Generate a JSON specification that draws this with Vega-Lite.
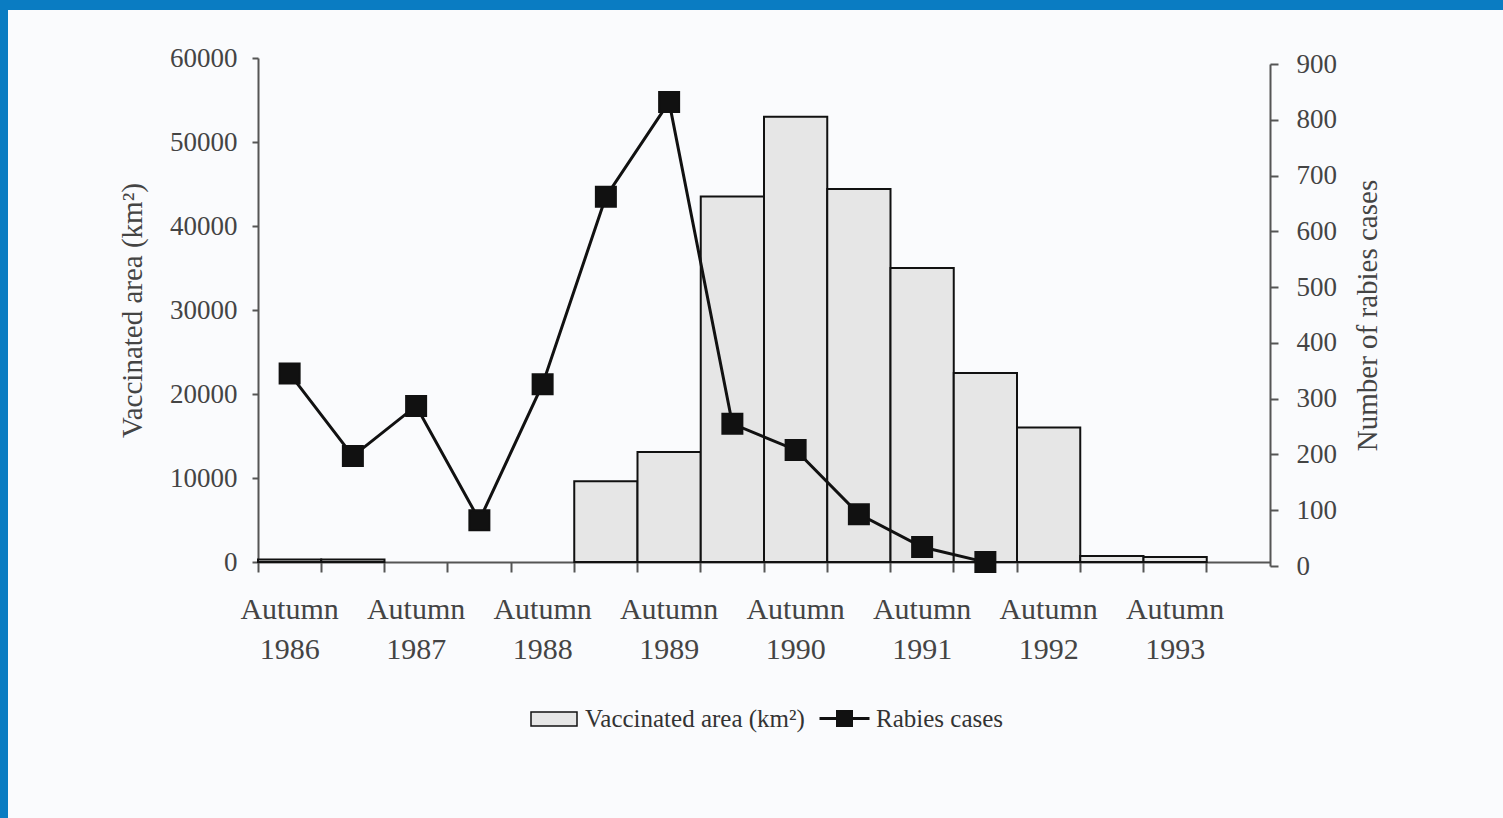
{
  "$schema": "https://vega.github.io/schema/vega-lite/v6.json",
  "width": 1495,
  "height": 808,
  "autosize": {"type": "none"},
  "padding": {"left": 8, "top": 10, "right": 0, "bottom": 0},
  "background": "#0a7cc2",
  "config": {
    "view": {"fill": "#fafbfd", "stroke": null},
    "axis": {
      "labelFont": "Liberation Serif",
      "titleFont": "Liberation Serif",
      "labelColor": "#444",
      "titleColor": "#444",
      "domainColor": "#555",
      "tickColor": "#555",
      "domainWidth": 2,
      "tickWidth": 2,
      "grid": false,
      "titleFontWeight": "normal"
    }
  },
  "datasets": {
    "vaccination": [
      {"period": "Autumn 1986", "area": 300},
      {"period": "Spring 1987", "area": 300},
      {"period": "Spring 1989", "area": 9600},
      {"period": "Autumn 1989", "area": 13100},
      {"period": "Spring 1990", "area": 43500},
      {"period": "Autumn 1990", "area": 53000},
      {"period": "Spring 1991", "area": 44400},
      {"period": "Autumn 1991", "area": 35000},
      {"period": "Spring 1992", "area": 22500},
      {"period": "Autumn 1992", "area": 16000},
      {"period": "Spring 1993", "area": 700},
      {"period": "Autumn 1993", "area": 600}
    ],
    "rabies": [
      {"period": "Autumn 1986", "cases": 345},
      {"period": "Spring 1987", "cases": 197},
      {"period": "Autumn 1987", "cases": 287},
      {"period": "Spring 1988", "cases": 82},
      {"period": "Autumn 1988", "cases": 326},
      {"period": "Spring 1989", "cases": 662},
      {"period": "Autumn 1989", "cases": 832},
      {"period": "Spring 1990", "cases": 255},
      {"period": "Autumn 1990", "cases": 208},
      {"period": "Spring 1991", "cases": 93},
      {"period": "Autumn 1991", "cases": 34},
      {"period": "Spring 1992", "cases": 7}
    ]
  },
  "layer": [
    {
      "data": {"name": "vaccination"},
      "mark": {"type": "bar", "stroke": "#111", "strokeWidth": 2},
      "encoding": {
        "x": {
          "field": "period",
          "type": "ordinal",
          "sort": null,
          "scale": {
            "domain": ["Autumn 1986", "Spring 1987", "Autumn 1987", "Spring 1988", "Autumn 1988", "Spring 1989", "Autumn 1989", "Spring 1990", "Autumn 1990", "Spring 1991", "Autumn 1991", "Spring 1992", "Autumn 1992", "Spring 1993", "Autumn 1993", "Spring 1994"],
            "range": [250, 1262],
            "paddingInner": 0,
            "paddingOuter": 0
          },
          "axis": {
            "title": null,
            "orient": "bottom",
            "offset": -256,
            "bandPosition": 0,
            "labelAngle": 0,
            "labelAlign": "center",
            "labelBaseline": "top",
            "labelFontSize": 30,
            "labelLineHeight": 40,
            "labelPadding": 22,
            "tickSize": 10,
            "labelOverlap": false,
            "labelExpr": "slice(datum.label, 0, 6) === 'Autumn' ? [slice(datum.label, 0, 6), slice(datum.label, 7)] : ''"
          }
        },
        "y": {
          "field": "area",
          "type": "quantitative",
          "scale": {"domain": [0, 60000], "range": [552, 48], "nice": false},
          "axis": {
            "title": "Vaccinated area (km²)",
            "orient": "left",
            "offset": -250,
            "values": [0, 10000, 20000, 30000, 40000, 50000, 60000],
            "format": "d",
            "labelFontSize": 27,
            "labelPadding": 15,
            "tickSize": 6,
            "titleFontSize": 29,
            "titlePadding": 22
          }
        },
        "fill": {
          "datum": "Vaccinated area (km²)",
          "type": "nominal",
          "scale": {"range": ["#e6e6e6"]},
          "legend": {
            "orient": "none",
            "legendX": 522,
            "legendY": 685,
            "title": null,
            "padding": 0,
            "symbolType": "M-1,-0.3H1V0.3H-1Z",
            "symbolSize": 2116,
            "labelFont": "Liberation Serif",
            "labelFontSize": 25,
            "labelColor": "#333",
            "labelOffset": 7,
            "labelLimit": 0,
            "encode": {"symbols": {"update": {"stroke": {"value": "#111"}, "strokeWidth": {"value": 2}, "fill": {"value": "#e6e6e6"}}}}
          }
        }
      }
    },
    {
      "data": {"name": "rabies"},
      "mark": {
        "type": "line",
        "strokeWidth": 3,
        "point": {"shape": "square", "size": 400, "filled": true, "fill": "#111", "stroke": "#111"}
      },
      "encoding": {
        "x": {"field": "period", "type": "ordinal", "sort": null},
        "y": {
          "field": "cases",
          "type": "quantitative",
          "scale": {"domain": [0, 900], "range": [556, 54], "nice": false},
          "axis": {
            "title": "Number of rabies cases",
            "orient": "right",
            "offset": -233,
            "values": [0, 100, 200, 300, 400, 500, 600, 700, 800, 900],
            "labelFontSize": 27,
            "labelPadding": 18,
            "tickSize": 8,
            "titleFontSize": 29,
            "titleAngle": -90,
            "titleBaseline": "top",
            "titlePadding": 17
          }
        },
        "stroke": {
          "datum": "Rabies cases",
          "type": "nominal",
          "scale": {"range": ["#111"]},
          "legend": {
            "orient": "none",
            "legendX": 810,
            "legendY": 682,
            "title": null,
            "padding": 0,
            "symbolType": "M-1,0H1M-0.28,-0.28H0.28V0.28H-0.28Z",
            "symbolSize": 2500,
            "labelFont": "Liberation Serif",
            "labelFontSize": 25,
            "labelColor": "#333",
            "labelOffset": 5,
            "labelLimit": 0,
            "encode": {"symbols": {"update": {"stroke": {"value": "#111"}, "strokeWidth": {"value": 3}, "fill": {"value": "#111"}}}}
          }
        }
      }
    }
  ],
  "resolve": {
    "scale": {"y": "independent", "fill": "independent", "stroke": "independent"},
    "axis": {"y": "independent"}
  }
}
